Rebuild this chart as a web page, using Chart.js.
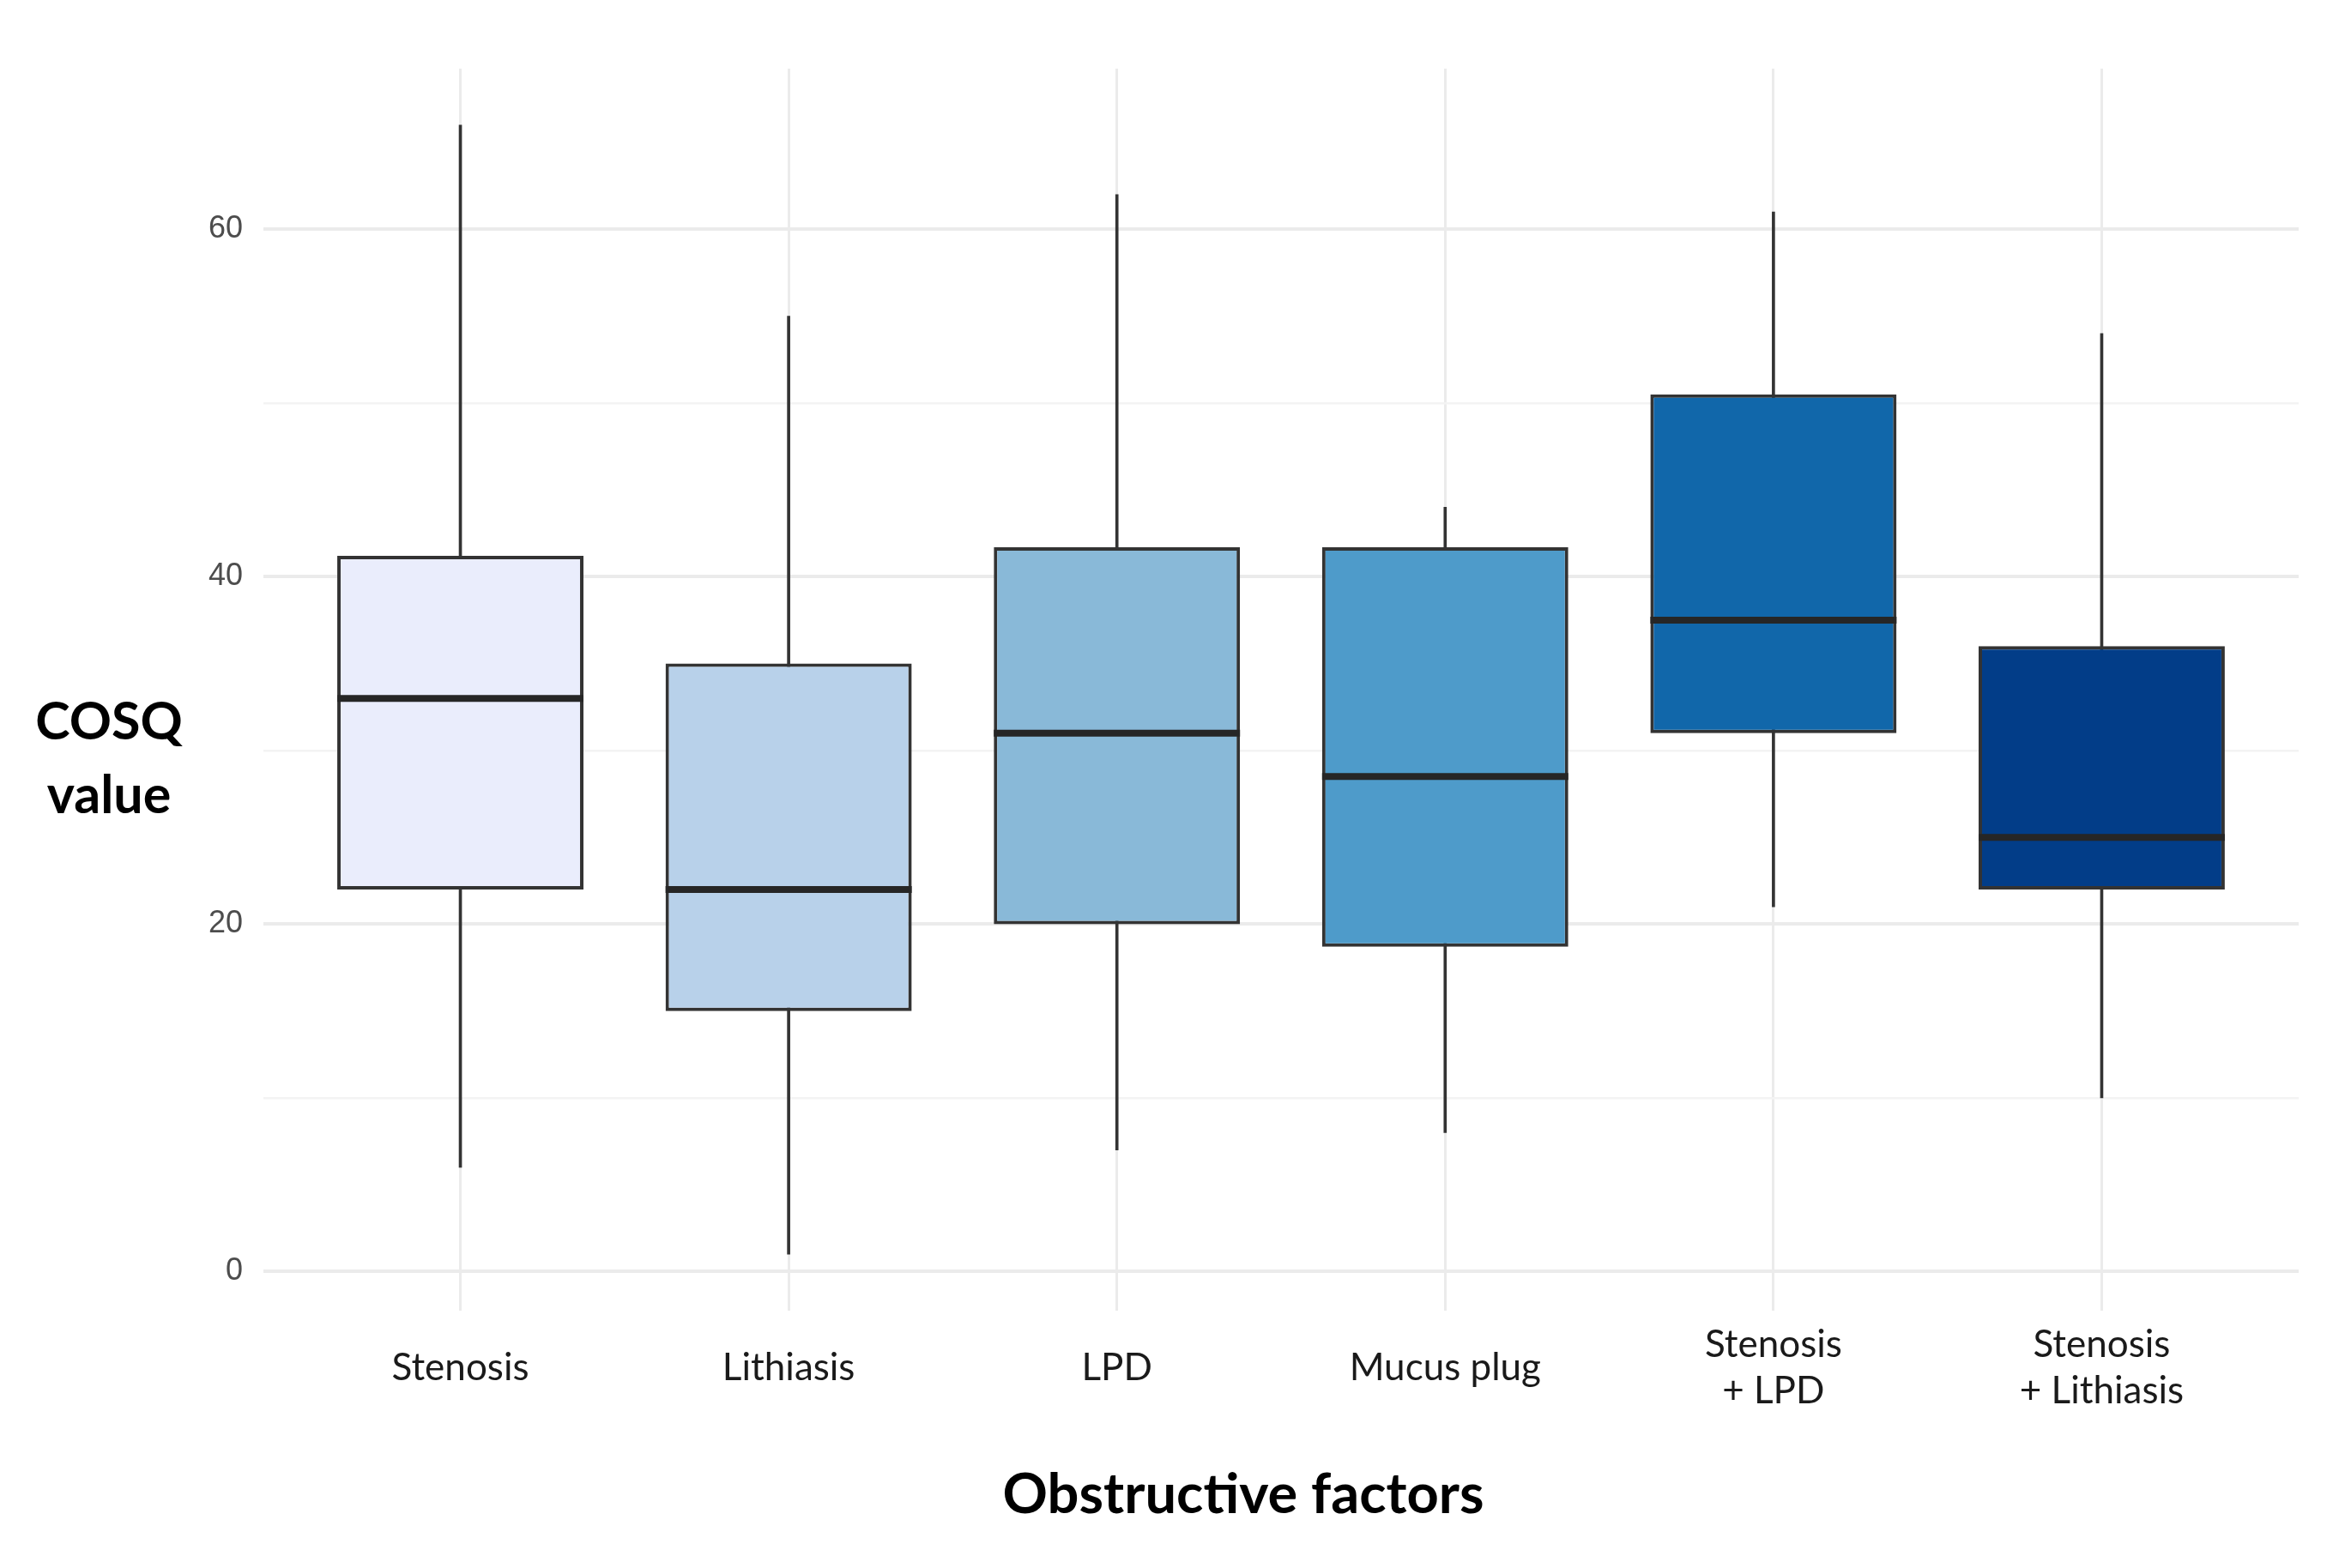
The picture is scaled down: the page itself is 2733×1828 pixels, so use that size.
<!DOCTYPE html>
<html lang="en">
<head>
    <meta charset="UTF-8">
    <title>COSQ value by obstructive factors</title>
    <script src="https://cdn.jsdelivr.net/npm/chart.js"></script>
    <style>
        html, body { margin: 0; padding: 0; background: #ffffff; }
        canvas { display: block; }
    </style>
</head>
<body>
    <canvas id="boxChart" width="2733" height="1828"></canvas>
    <script>
        // categories (multi-line labels as arrays)
        var categories = [
            'Stenosis', 'Lithiasis', 'LPD', 'Mucus plug',
            ['Stenosis', '+ LPD'], ['Stenosis', '+ Lithiasis']
        ];
        // boxplot stats
        var whiskerLow  = [6, 1, 7, 8, 21, 10];
        var q1Values    = [22, 15, 20, 18.7, 31, 22];
        var medians     = [33, 22, 31, 28.5, 37.5, 25];
        var q3Values    = [41.2, 35, 41.7, 41.7, 50.5, 36];
        var whiskerHigh = [66, 55, 62, 44, 61, 54];
        // y ticks (labels only on every 20)
        var yTickValues = [0, 10, 20, 30, 40, 50, 60];
        var yTickLabels = ['0', '', '20', '', '40', '', '60'];

        var boxColors = ['#eaedfc', '#b8d1ea', '#89b9d8', '#4e9bca', '#1167aa', '#023d88'];

        var boxData = categories.map(function (c, i) { return { x: i, y: [q1Values[i], q3Values[i]] }; });
        var whiskerData = categories.map(function (c, i) { return { x: i, y: [whiskerLow[i], whiskerHigh[i]] }; });
        var medianData = categories.map(function (c, i) { return { x: i, y: medians[i] }; });

        // axis titles drawn as plain text
        var titlePlugin = {
            id: 'titles',
            afterDraw: function (chart) {
                var ctx = chart.ctx;
                ctx.save();
                ctx.fillStyle = '#000000';
                ctx.font = 'bold 61px Lato';
                ctx.textAlign = 'center';
                ctx.textBaseline = 'alphabetic';
                ctx.fillText('COSQ', 127, 862);
                ctx.fillText('value', 127, 948);
                ctx.font = 'bold 65px Lato';
                ctx.textBaseline = 'middle';
                ctx.fillText('Obstructive factors', 1449, 1743);
                ctx.restore();
            }
        };

        var ctx = document.getElementById('boxChart').getContext('2d');
        new Chart(ctx, {
            type: 'bar',
            data: {
                datasets: [
                    {
                        // median lines
                        type: 'line',
                        data: medianData,
                        showLine: false,
                        pointStyle: 'line',
                        pointRadius: function (c) {
                            var x = c.chart.scales.x;
                            return x.getPixelForValue(0.375) - x.getPixelForValue(0);
                        },
                        pointBorderWidth: 8,
                        pointBorderColor: '#262626',
                        order: 0
                    },
                    {
                        // boxes
                        data: boxData,
                        backgroundColor: boxColors,
                        borderColor: '#333333',
                        borderWidth: 4,
                        borderSkipped: false,
                        grouped: false,
                        categoryPercentage: 1,
                        barPercentage: 0.75,
                        order: 1
                    },
                    {
                        // whiskers
                        data: whiskerData,
                        backgroundColor: '#333333',
                        borderWidth: 0,
                        barThickness: 3,
                        grouped: false,
                        order: 2
                    }
                ]
            },
            options: {
                responsive: false,
                animation: false,
                layout: { padding: { left: 0, top: 80, right: 54, bottom: 0 } },
                plugins: { legend: { display: false }, tooltip: { enabled: false } },
                scales: {
                    x: {
                        type: 'linear',
                        min: -0.6,
                        max: 5.6,
                        offset: false,
                        afterBuildTicks: function (s) {
                            s.ticks = categories.map(function (c, i) { return { value: i }; });
                        },
                        afterFit: function (s) { s.height = 300; },
                        border: { display: false },
                        grid: { color: '#ebebeb', lineWidth: 3, drawTicks: false, offset: false },
                        ticks: {
                            autoSkip: false,
                            maxRotation: 0,
                            crossAlign: 'center',
                            padding: 40,
                            color: '#1a1a1a',
                            font: { family: 'Lato', size: 44, lineHeight: 1.22 },
                            callback: function (v) { return categories[v]; }
                        }
                    },
                    y: {
                        min: -2.25,
                        max: 69.25,
                        afterBuildTicks: function (s) {
                            s.ticks = yTickValues.map(function (v) { return { value: v }; });
                        },
                        afterFit: function (s) { s.width = 307; },
                        border: { display: false },
                        grid: {
                            drawTicks: false,
                            color: function (c) { return c.tick && c.tick.value % 20 === 0 ? '#ebebeb' : '#f3f3f3'; },
                            lineWidth: function (c) { return c.tick && c.tick.value % 20 === 0 ? 4 : 2.5; }
                        },
                        ticks: {
                            padding: 24,
                            color: '#4d4d4d',
                            font: { family: 'Liberation Sans', size: 36 },
                            callback: function (v) { return yTickLabels[yTickValues.indexOf(v)]; }
                        }
                    }
                }
            },
            plugins: [titlePlugin]
        });
    </script>
</body>
</html>
